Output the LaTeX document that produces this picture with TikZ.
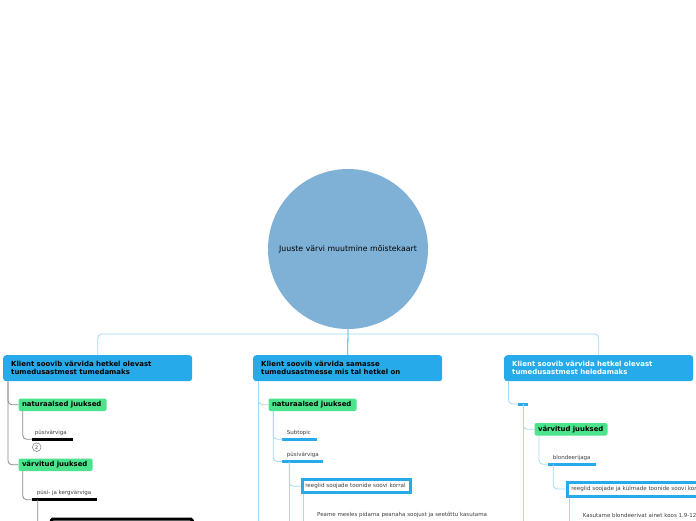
\documentclass[tikz,border=0pt]{standalone}
\usepackage{fontspec}
\setmainfont{DejaVu Sans}
\usetikzlibrary{calc}
\definecolor{rootc}{HTML}{7FB1D7}
\definecolor{mainc}{HTML}{27AAE9}
\definecolor{greenc}{HTML}{4BE38B}
\definecolor{lblue}{HTML}{A3DAF5}
\definecolor{dblue}{HTML}{2DA9E1}
\definecolor{greyc}{HTML}{8A8A8A}
\tikzset{
 mainbox/.style={fill=mainc, rounded corners=3pt, anchor=north west, minimum height=26pt, text width=173pt, inner xsep=8pt, inner ysep=0pt, align=left, font=\fontsize{6.95}{8.2}\selectfont\bfseries},
 greenbox/.style={fill=greenc, rounded corners=2pt, anchor=north west, minimum height=12.5pt, inner xsep=3.5pt, inner ysep=0pt, align=left, font=\fontsize{6.9}{7}\selectfont\bfseries},
 smalltxt/.style={anchor=base west, inner sep=0pt, font=\fontsize{5.5}{6}\selectfont, text=black!75},
 blackrule/.style={draw=black, line width=3pt},
 bluerule/.style={draw=mainc, line width=3pt},
 greyconn/.style={draw=greyc, line width=0.8pt, rounded corners=4pt},
 blueconn/.style={draw=lblue, line width=0.8pt, rounded corners=4pt},
 topicbox/.style={draw=mainc, line width=3pt, fill=white, anchor=north west, minimum height=13pt, inner xsep=3pt, inner ysep=0pt, align=left, font=\fontsize{5.6}{6}\selectfont, text=black!75},
}
\begin{document}
\begin{tikzpicture}[x=1pt,y=-1pt]
\useasboundingbox (0,0) rectangle (696,520);
\clip (0,0) rectangle (696,520);
\fill[white] (0,0) rectangle (696,520);

% root
\node[circle, fill=rootc, minimum size=160pt, inner sep=0pt, font=\fontsize{7.8}{9}\selectfont] (root) at (348,249) {Juuste värvi muutmine mõistekaart};

% main topics
\node[mainbox] (m1) at (3,355) {Klient soovib värvida hetkel olevast\\tumedusastmest tumedamaks};
\node[mainbox] (m2) at (253,355) {Klient soovib värvida samasse\\tumedusastmesse mis tal hetkel on};
\node[mainbox, text=white] (m3) at (504,355) {Klient soovib värvida hetkel olevast\\tumedusastmest heledamaks};

\coordinate (hbar) at (348,334);
\draw[blueconn] (m1.north) |- (hbar) -| (m3.north);
\draw[dblue, line width=0.8pt] (root.south) -- (m2.north);

% ---------- left branch ----------
\node[greenbox, text width=81pt] (n1) at (18.3,398.3) {naturaalsed juuksed};
\node[greenbox, text width=67pt] (v1) at (18.3,458.3) {värvitud juuksed};
\draw[greyconn] ($(m1.south west)+(5,0)$) |- (n1.west);
\draw[greyconn] ($(m1.south west)+(5,0)$) |- (v1.west);

\node[smalltxt] (t1) at (34.7,434.3) {püsivärviga};
\coordinate (u1a) at (31.7,439.3);
\coordinate (u1b) at (73.3,439.3);
\draw[blackrule] (u1a) -- (u1b);
\draw[greyconn] ($(n1.south west)+(4.4,0)$) |- (u1a);
\node[circle, draw=greyc, line width=0.6pt, minimum size=8.6pt, inner sep=0pt, font=\fontsize{5}{5}\selectfont, text=black!70] (c2) at (36.7,447.2) {2};

\node[smalltxt] (t2) at (36.7,494.3) {püsi- ja kergvärviga};
\coordinate (u2a) at (31.7,499.7);
\coordinate (u2b) at (97.3,499.7);
\draw[blackrule] (u2a) -- (u2b);
\draw[greyconn] ($(v1.south west)+(4.4,0)$) |- (u2a);

\node[draw=black, line width=3pt, fill=white, rounded corners=1.5pt, anchor=north west, minimum width=141pt, minimum height=24pt, inner sep=0pt] (bk) at (49.8,517.5) {};
\coordinate (u2c) at (37.7,499.7);
\draw[greyconn] (u2c) |- (bk.west);

% ---------- middle branch ----------
\node[greenbox, text width=81pt] (n2) at (268.3,398.3) {naturaalsed juuksed};
\coordinate (m2end) at (258.5,530);
\draw[blueconn] ($(m2.south west)+(5.5,0)$) |- (n2.west);
\draw[blueconn] ($(m2.south west)+(5.5,0)$) -- (m2end);

\node[smalltxt] (t3) at (286.7,434.3) {Subtopic};
\coordinate (u3a) at (282.3,439.3);
\coordinate (u3b) at (316.7,439.3);
\draw[bluerule] (u3a) -- (u3b);
\node[smalltxt] (t4) at (286.7,456.3) {püsivärviga};
\coordinate (u4a) at (282.3,461.5);
\coordinate (u4b) at (323.3,461.5);
\draw[bluerule] (u4a) -- (u4b);
\draw[blueconn] ($(n2.south west)+(5,0)$) |- (u3a);
\draw[blueconn] ($(n2.south west)+(5,0)$) |- (u4a);

\node[topicbox, text width=102.4pt] (tb1) at (300.8,478.2) {reeglid soojade toonide soovi korral};
\coordinate (u4c) at (289.3,461.5);
\coordinate (u4end) at (289.3,530);
\draw[blueconn] (u4c) |- (tb1.west);
\draw[blueconn] (u4c) -- (u4end);

\node[smalltxt] (t5) at (317,516.7) {Peame meeles pidama peanaha soojust ja seetõttu kasutama};
\coordinate (tb1end) at (303.3,530);
\draw[blueconn] (tb1.south west -| tb1end) -- (tb1end);

% ---------- right branch ----------
\coordinate (b1a) at (518.3,404);
\coordinate (b1b) at (528.3,404);
\draw[blueconn] ($(m3.south west)+(4.5,0)$) |- (b1a);
\draw[bluerule] (b1a) -- (b1b);
\node[greenbox, text width=66pt] (v3) at (534.3,422.8) {värvitud juuksed};
\coordinate (b1m) at (523.3,404);
\coordinate (b1end) at (523.3,530);
\draw[blueconn] (b1m) |- (v3.west);
\draw[blueconn] (b1m) -- (b1end);

\node[smalltxt] (t6) at (552.7,459.3) {blondeerijaga};
\coordinate (u6a) at (547.7,464.3);
\coordinate (u6b) at (596,464.3);
\draw[bluerule] (u6a) -- (u6b);
\draw[blueconn] ($(v3.south west)+(4.7,0)$) |- (u6a);

\node[topicbox, minimum height=14pt, inner xsep=4pt] (tb2) at (565.8,480.5) {reeglid soojade ja külmade toonide soovi korral};
\coordinate (u6c) at (553.3,464.3);
\draw[blueconn] (u6c) |- (tb2.west);

\node[smalltxt] (t7) at (582.7,517.3) {Kasutame blondeerivat ainet koos 1.9-12};
\coordinate (tb2end) at (569,530);
\draw[blueconn] (tb2.south west -| tb2end) -- (tb2end);
\end{tikzpicture}
\end{document}
